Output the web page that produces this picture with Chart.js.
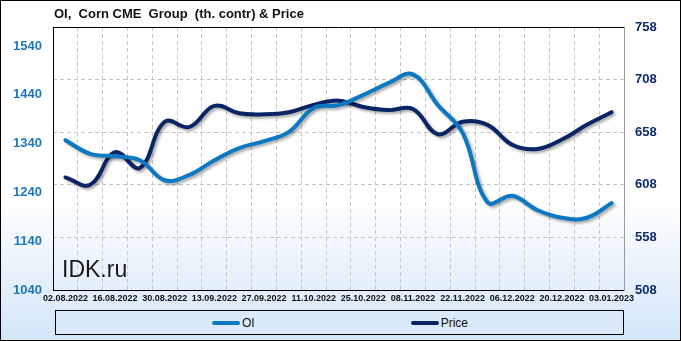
<!DOCTYPE html>
<html>
<head>
<meta charset="utf-8">
<script src="https://cdn.jsdelivr.net/npm/chart.js"></script>
<style>
  html, body { margin: 0; padding: 0; background: #fff; }
  #wrap {
    position: relative; width: 681px; height: 341px; box-sizing: border-box;
    border: 1px solid #000;
    background: linear-gradient(to bottom, #ffffff 0%, #ffffff 58%, #d3e6f8 100%);
    font-family: "Liberation Sans", Arial, sans-serif;
  }
  #chart { position: absolute; left: 0; top: 0; }
  #title {
    position: absolute; left: 53px; top: 5px; font-size: 13px; font-weight: bold;
    color: #111; white-space: pre;
  }
  #mark { position: absolute; left: 61px; top: 255px; font-size: 23px; color: #1a1a1a; }
  #legend {
    position: absolute; left: 54px; top: 309px; width: 569px; height: 25px; box-sizing: border-box;
    border: 1px solid #000; background: #dbeafa;
    display: flex; align-items: center; padding-left: 156px; gap: 156px;
  }
  .item { display: flex; align-items: center; font-size: 12px; color: #111; }
  .swatch { width: 28px; height: 4px; border-radius: 2px; margin-right: 2px; }
</style>
</head>
<body>
<div id="wrap">
  <canvas id="chart" width="679" height="339"></canvas>
  <div id="title">OI,  Corn CME  Group  (th. contr) &amp; Price</div>
  <div id="mark">IDK.ru</div>
  <div id="legend"></div>
</div>
<script>
// weekly dates (COT tuesdays)
const dates = ["02.08.2022", "09.08.2022", "16.08.2022", "23.08.2022", "30.08.2022", "06.09.2022",
  "13.09.2022", "20.09.2022", "27.09.2022", "04.10.2022", "11.10.2022", "18.10.2022", "25.10.2022",
  "01.11.2022", "08.11.2022", "15.11.2022", "22.11.2022", "29.11.2022", "06.12.2022", "13.12.2022",
  "20.12.2022", "27.12.2022", "03.01.2023"];

// open interest, th. contracts (left axis)
const oi = [1347, 1319, 1314, 1306, 1265, 1276, 1306, 1331, 1345, 1364, 1413, 1419, 1440,
  1464, 1482, 1419, 1362, 1220, 1233, 1204, 1188, 1188, 1218];

// price (right axis)
const price = [615, 608, 639, 624, 668, 663, 683, 676, 675, 677, 684, 688, 682,
  679, 680, 656, 668, 665, 646, 642, 651, 665, 677];

const leftTicks = [1040, 1140, 1240, 1340, 1440, 1540];
const rightTicks = [508, 558, 608, 658, 708, 758];

const oiColor = "#0a78c2";
const priceColor = "#0b2465";
const gridColor = "#c6c6c6";

// soft drop shadow under the lines
const shadowPlugin = {
  id: "lineShadow",
  beforeDatasetDraw(chart) {
    const ctx = chart.ctx;
    ctx.save();
    ctx.shadowColor = "rgba(0,0,0,0.35)";
    ctx.shadowBlur = 3;
    ctx.shadowOffsetX = 2;
    ctx.shadowOffsetY = 2;
  },
  afterDatasetDraw(chart) {
    chart.ctx.restore();
  }
};

// top border of the plot
const frameTop = {
  id: "frameTop",
  afterDraw(chart) {
    const { ctx, chartArea } = chart;
    ctx.save();
    ctx.strokeStyle = "#000";
    ctx.lineWidth = 1;
    ctx.beginPath();
    ctx.moveTo(chartArea.left, Math.round(chartArea.top) + 0.5);
    ctx.lineTo(chartArea.right, Math.round(chartArea.top) + 0.5);
    ctx.stroke();
    ctx.restore();
  }
};

const tickFont = { family: "'Liberation Sans', Arial, sans-serif", size: 13, weight: "bold" };

const chart = new Chart(document.getElementById("chart"), {
  type: "line",
  data: {
    labels: dates,
    datasets: [
      {
        label: "OI",
        data: oi,
        yAxisID: "yL",
        borderColor: oiColor,
        backgroundColor: oiColor,
        borderWidth: 4,
        pointRadius: 0,
        tension: 0.4,
        borderCapStyle: "round",
        borderJoinStyle: "round",
        fill: false
      },
      {
        label: "Price",
        data: price,
        yAxisID: "yR",
        borderColor: priceColor,
        backgroundColor: priceColor,
        borderWidth: 4,
        pointRadius: 0,
        tension: 0.4,
        borderCapStyle: "round",
        borderJoinStyle: "round",
        fill: false
      }
    ]
  },
  options: {
    responsive: false,
    animation: false,
    layout: { padding: { top: 26, bottom: 30, left: 0, right: 0 } },
    plugins: {
      legend: { display: false },
      title: { display: false },
      tooltip: { enabled: false }
    },
    scales: {
      x: {
        offset: true,
        grid: { offset: true, color: gridColor, drawTicks: false },
        border: { color: "#000", width: 1, dash: [4, 3] },
        ticks: {
          autoSkip: false, maxRotation: 0, padding: 3, color: "#111",
          font: { family: "'Liberation Sans', Arial, sans-serif", size: 9, weight: "bold" },
          callback(v, i) { return i % 2 === 0 ? dates[i] : ""; }
        },
        afterFit(s) { s.height = 20; }
      },
      yL: {
        position: "left",
        min: leftTicks[0],
        max: 1579,
        grid: { display: false, drawTicks: false },
        border: { color: "#000", width: 1 },
        ticks: { color: "#1b76c2", font: tickFont, padding: 11, callback: v => String(v) },
        afterBuildTicks(s) { s.ticks = leftTicks.map(v => ({ value: v })); },
        afterFit(s) { s.width = 52; }
      },
      yR: {
        position: "right",
        min: rightTicks[0],
        max: rightTicks[rightTicks.length - 1],
        grid: { color: gridColor, drawTicks: false },
        border: { color: "#9a9a9a", width: 1, dash: [4, 3] },
        ticks: { color: "#0d2b6b", font: tickFont, padding: 11, callback: v => String(v) },
        afterBuildTicks(s) { s.ticks = rightTicks.map(v => ({ value: v })); },
        afterFit(s) { s.width = 56; }
      }
    }
  },
  plugins: [shadowPlugin, frameTop]
});

// html legend built from the chart's datasets
const legendEl = document.getElementById("legend");
chart.data.datasets.forEach(ds => {
  const it = document.createElement("div");
  it.className = "item";
  const sw = document.createElement("span");
  sw.className = "swatch";
  sw.style.background = ds.borderColor;
  it.appendChild(sw);
  it.appendChild(document.createTextNode(ds.label));
  legendEl.appendChild(it);
});
</script>
</body>
</html>
